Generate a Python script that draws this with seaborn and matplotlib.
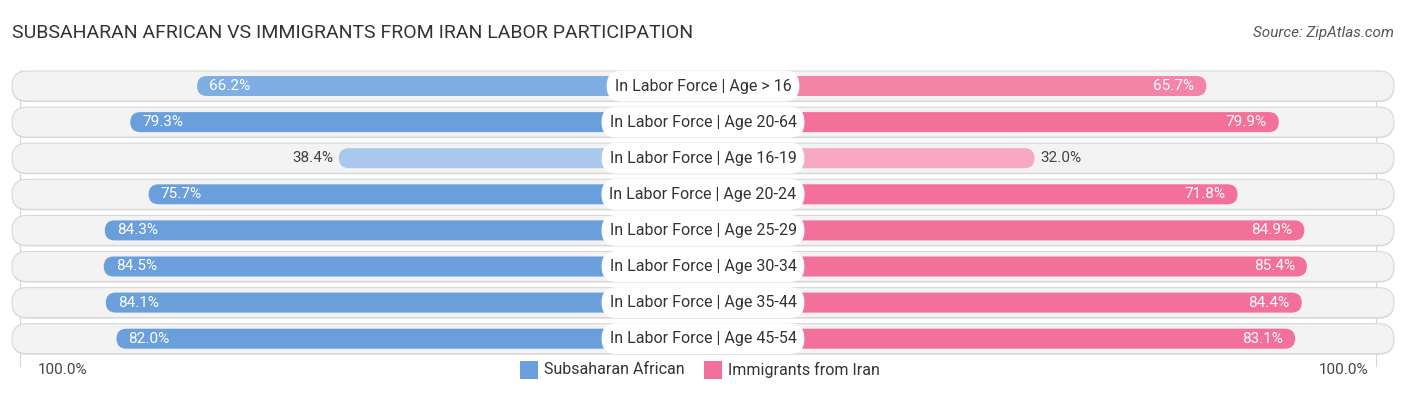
import numpy as np
import pandas as pd
import matplotlib.pyplot as plt
import seaborn as sns
from matplotlib.patches import FancyBboxPatch, Rectangle

sns.set_style('white')
plt.rcParams['font.family'] = ['Roboto', 'DejaVu Sans']

# 数据
categories = ['In Labor Force | Age > 16', 'In Labor Force | Age 20-64',
              'In Labor Force | Age 16-19', 'In Labor Force | Age 20-24',
              'In Labor Force | Age 25-29', 'In Labor Force | Age 30-34',
              'In Labor Force | Age 35-44', 'In Labor Force | Age 45-54']
subsaharan = [66.2, 79.3, 38.4, 75.7, 84.3, 84.5, 84.1, 82.0]
iran = [65.7, 79.9, 32.0, 71.8, 84.9, 85.4, 84.4, 83.1]
series_names = ['Subsaharan African', 'Immigrants from Iran']

blue_cols = ['#7eaee3', '#6a9fdc', '#a9c8ec', '#6a9fdc', '#6a9fdc', '#6a9fdc', '#6a9fdc', '#6a9fdc']
pink_cols = ['#f483a8', '#f27099', '#f7a9c2', '#f27099', '#f27099', '#f27099', '#f27099', '#f27099']
blue_main = '#6a9fdc'
pink_main = '#f27099'

W, H = 1406, 395
sx = 5.1          # 像素 / 单位
sy = 36.1         # 像素 / 行
cx = 703          # 中心像素
y0 = 86           # 第一行中心像素
gap = 33          # 中间标签留白

fig = plt.figure(figsize=(W / 100, H / 100), dpi=100)
ax = fig.add_axes([0, 0, 1, 1])

df = pd.DataFrame({'cat': categories,
                   'left': [-(gap + v) for v in subsaharan],
                   'right': [gap + v for v in iran]})

sns.barplot(data=df, x='left', y='cat', hue='cat', palette=blue_cols, saturation=1,
            orient='h', width=20 / sy, legend=False, ax=ax, zorder=3)
sns.barplot(data=df, x='right', y='cat', hue='cat', palette=pink_cols, saturation=1,
            orient='h', width=20 / sy, legend=False, ax=ax, zorder=3)

ax.set_xlim(-cx / sx, (W - cx) / sx)
ax.set_ylim((H - y0) / sy, -y0 / sy)
ax.axis('off')

# 圆角化条形
aspect = sx / sy
for p in list(ax.patches):
    x_a, x_b = sorted([p.get_x(), p.get_x() + p.get_width()])
    yb, hb = p.get_y(), p.get_height()
    fc = p.get_facecolor()
    p.remove()
    r = 10 / sx
    ax.add_patch(FancyBboxPatch((x_a, yb), x_b - x_a, hb,
                                boxstyle=f'round,pad=0,rounding_size={r}',
                                mutation_aspect=aspect, fc=fc, ec='none', zorder=3))

# 背景条
bh = 30 / sy
xl, xr = (12 - cx) / sx, (1394 - cx) / sx
for i in range(len(categories)):
    ax.add_patch(FancyBboxPatch((xl, i - bh / 2 + 0.03), xr - xl, bh,
                                boxstyle=f'round,pad=0,rounding_size={15 / sx}',
                                mutation_aspect=aspect, fc='#dcdcdc', ec='none', zorder=1))
    ax.add_patch(FancyBboxPatch((xl, i - bh / 2), xr - xl, bh,
                                boxstyle=f'round,pad=0,rounding_size={15 / sx}',
                                mutation_aspect=aspect, fc='#f3f3f3', ec='#d8d8d8',
                                lw=0.8, zorder=2))

# 100% 参考线
for xv in [-(gap + 100) - 1, gap + 100 - 1]:
    ax.plot([xv, xv], [-0.45, 7.75], color='#d5d5d5', lw=0.8, zorder=1.5)

# 数值与类别标签
for i, cat in enumerate(categories):
    ax.text(0, i, cat, ha='center', va='center', fontsize=11.5, color='#333333', zorder=5,
            bbox=dict(boxstyle='round,pad=0.5,rounding_size=0.95', fc='white', ec='none'))
    lv, rv = subsaharan[i], iran[i]
    if lv > 50:
        ax.text(-(gap + lv) + 12 / sx, i, f'{lv:.1f}%', ha='left', va='center',
                fontsize=11, color='white', zorder=4)
    else:
        ax.text(-(gap + lv) - 6 / sx, i, f'{lv:.1f}%', ha='right', va='center',
                fontsize=11, color='#444444', zorder=4)
    if rv > 50:
        ax.text(gap + rv - 12 / sx, i, f'{rv:.1f}%', ha='right', va='center',
                fontsize=11, color='white', zorder=4)
    else:
        ax.text(gap + rv + 6 / sx, i, f'{rv:.1f}%', ha='left', va='center',
                fontsize=11, color='#444444', zorder=4)

# 标题
fig.text(12 / W, 1 - 33 / H, 'SUBSAHARAN AFRICAN VS IMMIGRANTS FROM IRAN LABOR PARTICIPATION',
         ha='left', va='center', fontsize=14, color='#333333')
fig.text(1394 / W, 1 - 33 / H, 'Source: ZipAtlas.com', ha='right', va='center',
         fontsize=11, color='#555555', style='italic')

# 底部
ly = 1 - 370 / H
fig.text(38 / W, ly, '100.0%', ha='left', va='center', fontsize=11, color='#444444')
fig.text(1368 / W, ly, '100.0%', ha='right', va='center', fontsize=11, color='#444444')
for px, col, name in [(520, blue_main, series_names[0]), (704, pink_main, series_names[1])]:
    fig.patches.append(Rectangle((px / W, 1 - 379 / H), 18 / W, 18 / H,
                                 transform=fig.transFigure, fc=col, ec='none'))
    fig.text((px + 24) / W, ly, name, ha='left', va='center', fontsize=11.5, color='#333333')

fig.savefig('out.png', dpi=100)
